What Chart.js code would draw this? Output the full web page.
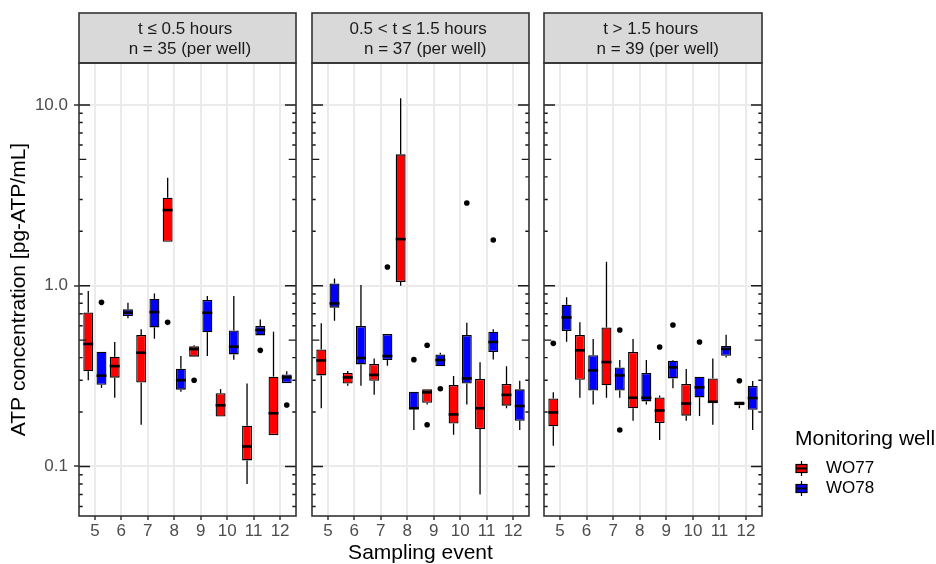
<!DOCTYPE html>
<html>
<head>
<meta charset="utf-8">
<script src="https://cdn.jsdelivr.net/npm/chart.js@4.4.1/dist/chart.umd.min.js"></script>
<style>
  html, body { margin: 0; padding: 0; background: #fff; }
  #wrap { position: relative; width: 936px; height: 564px; }
  #wrap canvas { position: absolute; left: 0; top: 0; }
</style>
</head>
<body>
<div id="wrap">
  <canvas id="panel0" width="936" height="564"></canvas>
  <canvas id="panel1" width="936" height="564"></canvas>
  <canvas id="panel2" width="936" height="564"></canvas>
</div>
<script>
const events = [5, 6, 7, 8, 9, 10, 11, 12];
const wells = ['WO77', 'WO78'];
const wellColors = ['#ff0000', '#0000ff'];
const stripTitles = [
  ['t \u2264 0.5 hours ', ' n = 35 (per well)'],
  ['0.5 < t \u2264 1.5 hours ', '  n = 37 (per well)'],
  ['t > 1.5 hours ', '  n = 39 (per well)']
];
const yTicks = [0.1, 1, 10];
const yMin = 0.0532;
const yMax = 17.07;

// per event: [lower whisker, Q1, median, Q3, upper whisker]
const early_WO77 = [
  [0.300, 0.336, 0.476, 0.712, 0.934],
  [0.240, 0.310, 0.359, 0.405, 0.488],
  [0.170, 0.291, 0.426, 0.533, 0.574],
  [1.75, 1.75, 2.62, 3.07, 3.96],
  [0.405, 0.405, 0.446, 0.462, 0.468],
  [0.189, 0.189, 0.218, 0.254, 0.268],
  [0.080, 0.108, 0.129, 0.168, 0.288],
  [0.149, 0.149, 0.197, 0.314, 0.557]
];
const early_WO78 = [
  [0.272, 0.283, 0.318, 0.431, 0.431],
  [0.660, 0.680, 0.709, 0.740, 0.805],
  [0.509, 0.588, 0.715, 0.847, 0.907],
  [0.259, 0.266, 0.300, 0.347, 0.408],
  [0.408, 0.552, 0.709, 0.833, 0.877],
  [0.390, 0.417, 0.460, 0.566, 0.877],
  [0.531, 0.531, 0.569, 0.598, 0.651],
  [0.289, 0.289, 0.311, 0.323, 0.336]
];
const early_WO77_out = [[], [], [], [0.627], [0.300], [], [], []];
const early_WO78_out = [[0.809], [], [], [], [], [], [0.439], [0.219]];

const mid_WO77 = [
  [0.210, 0.319, 0.386, 0.444, 0.619],
  [0.280, 0.288, 0.311, 0.329, 0.337],
  [0.249, 0.298, 0.321, 0.369, 0.396],
  [1.00, 1.05, 1.81, 5.33, 10.88],
  [0.220, 0.225, 0.257, 0.267, 0.267],
  [0.150, 0.173, 0.194, 0.282, 0.317],
  [0.070, 0.161, 0.210, 0.305, 0.377],
  [0.210, 0.217, 0.249, 0.286, 0.358]
];
const mid_WO78 = [
  [0.640, 0.756, 0.798, 1.030, 1.098],
  [0.280, 0.367, 0.398, 0.598, 1.009],
  [0.361, 0.388, 0.408, 0.540, 0.540],
  [0.159, 0.207, 0.210, 0.259, 0.259],
  [0.358, 0.358, 0.388, 0.417, 0.426],
  [0.220, 0.288, 0.307, 0.533, 0.624],
  [0.391, 0.430, 0.488, 0.557, 0.574],
  [0.159, 0.179, 0.216, 0.267, 0.298]
];
const mid_WO77_out = [[], [], [], [], [0.468, 0.170], [], [], []];
const mid_WO78_out = [[], [], [1.27], [0.390], [0.269], [2.87], [1.79], []];

const late_WO77 = [
  [0.130, 0.167, 0.199, 0.238, 0.257],
  [0.240, 0.302, 0.439, 0.533, 0.627],
  [0.240, 0.281, 0.378, 0.588, 1.357],
  [0.179, 0.210, 0.240, 0.430, 0.507],
  [0.140, 0.174, 0.204, 0.241, 0.247],
  [0.179, 0.191, 0.223, 0.286, 0.346],
  [0.170, 0.226, 0.228, 0.307, 0.396],
  [0.210, 0.218, 0.2235, 0.229, 0.229]
];
const late_WO78 = [
  [0.490, 0.562, 0.668, 0.785, 0.862],
  [0.220, 0.263, 0.340, 0.412, 0.507],
  [0.240, 0.263, 0.319, 0.353, 0.388],
  [0.220, 0.229, 0.240, 0.329, 0.388],
  [0.271, 0.307, 0.353, 0.385, 0.388],
  [0.190, 0.241, 0.274, 0.314, 0.314],
  [0.401, 0.410, 0.447, 0.464, 0.536],
  [0.159, 0.206, 0.239, 0.279, 0.297]
];
const late_WO77_out = [[0.480], [], [], [], [0.458], [], [], [0.298]];
const late_WO78_out = [[], [], [0.569, 0.159], [], [0.606], [0.488], [], []];

const panels = [
  { stats: [early_WO77, early_WO78], out: [early_WO77_out, early_WO78_out] },
  { stats: [mid_WO77, mid_WO78], out: [mid_WO77_out, mid_WO78_out] },
  { stats: [late_WO77, late_WO78], out: [late_WO77_out, late_WO78_out] }
];

// layout
const W = 936, H = 564;
const panelLeft = [79, 312, 544];
const panelRight = [296, 529, 762];
const plotTop = 63, plotBottom = 516, stripTop = 13;
const FONT = "'Liberation Sans', Arial, sans-serif";
Chart.defaults.font.family = FONT;

// whiskers, medians, outliers on top of the floating bars
const boxPlugin = {
  id: 'boxWhiskers',
  afterDatasetsDraw(chart) {
    const ctx = chart.ctx, y = chart.scales.y;
    chart.data.datasets.forEach((ds, i) => {
      chart.getDatasetMeta(i).data.forEach((bar, j) => {
        const [lo, q1, med, q3, hi] = ds.stats[j];
        const half = bar.width / 2;
        ctx.save();
        ctx.strokeStyle = '#000';
        ctx.lineWidth = 1.3;
        ctx.beginPath();
        ctx.moveTo(bar.x, y.getPixelForValue(hi));
        ctx.lineTo(bar.x, y.getPixelForValue(q3));
        ctx.moveTo(bar.x, y.getPixelForValue(q1));
        ctx.lineTo(bar.x, y.getPixelForValue(lo));
        ctx.stroke();
        ctx.lineWidth = 2.6;
        ctx.beginPath();
        ctx.moveTo(bar.x - half, y.getPixelForValue(med));
        ctx.lineTo(bar.x + half, y.getPixelForValue(med));
        ctx.stroke();
        ctx.fillStyle = '#000';
        ds.outliers[j].forEach(v => {
          ctx.beginPath();
          ctx.arc(bar.x, y.getPixelForValue(v), 2.8, 0, Math.PI * 2);
          ctx.fill();
        });
        ctx.restore();
      });
    });
  }
};

// strip, panel border and log ticks
const framePlugin = {
  id: 'facetFrame',
  afterDraw(chart, args, opts) {
    const ctx = chart.ctx, ca = chart.chartArea, y = chart.scales.y;
    ctx.save();
    // strip
    ctx.fillStyle = '#d9d9d9';
    ctx.fillRect(ca.left, stripTop, ca.right - ca.left, ca.top - stripTop);
    ctx.strokeStyle = '#333333';
    ctx.lineWidth = 1.6;
    ctx.strokeRect(ca.left, stripTop, ca.right - ca.left, ca.top - stripTop);
    ctx.fillStyle = '#1a1a1a';
    ctx.font = '17px ' + FONT;
    ctx.textAlign = 'center';
    ctx.textBaseline = 'middle';
    const cx = (ca.left + ca.right) / 2;
    ctx.fillText(opts.title[0], cx, 29);
    ctx.fillText(opts.title[1], cx, 49);
    // log ticks on both sides
    ctx.strokeStyle = '#1a1a1a';
    ctx.lineWidth = 1.4;
    ctx.beginPath();
    for (let k = -2; k <= 1; k++) {
      for (let m = 1; m <= 9; m++) {
        const v = m * Math.pow(10, k);
        if (v < y.min || v > y.max) continue;
        const py = y.getPixelForValue(v);
        const len = m === 1 ? 11 : (m === 5 ? 7.3 : 3.7);
        ctx.moveTo(ca.left, py); ctx.lineTo(ca.left + len, py);
        ctx.moveTo(ca.right, py); ctx.lineTo(ca.right - len, py);
      }
    }
    ctx.stroke();
    // panel border
    ctx.strokeStyle = '#333333';
    ctx.lineWidth = 1.6;
    ctx.strokeRect(ca.left, ca.top, ca.right - ca.left, ca.bottom - ca.top);
    ctx.restore();
  }
};

const legendPlugin = {
  id: 'wellLegend',
  afterDraw(chart) {
    const ctx = chart.ctx;
    ctx.save();
    ctx.fillStyle = '#000';
    ctx.textAlign = 'left';
    ctx.textBaseline = 'middle';
    ctx.font = '21px ' + FONT;
    ctx.fillText('Monitoring well', 795, 439);
    wells.forEach((w, i) => {
      const cy = 468.5 + i * 20, x0 = 796, bw = 11, cx = x0 + bw / 2;
      ctx.strokeStyle = '#000';
      ctx.lineWidth = 1.2;
      ctx.beginPath();
      ctx.moveTo(cx, cy - 7.5); ctx.lineTo(cx, cy + 7.5);
      ctx.stroke();
      ctx.fillStyle = wellColors[i];
      ctx.fillRect(x0, cy - 4, bw, 8);
      ctx.strokeRect(x0, cy - 4, bw, 8);
      ctx.lineWidth = 2;
      ctx.beginPath();
      ctx.moveTo(x0, cy); ctx.lineTo(x0 + bw, cy);
      ctx.stroke();
      ctx.fillStyle = '#000';
      ctx.font = '17px ' + FONT;
      ctx.fillText(w, 826, cy);
    });
    ctx.restore();
  }
};

function makePanel(idx) {
  const p = panels[idx];
  const first = idx === 0;
  return new Chart(document.getElementById('panel' + idx), {
    type: 'bar',
    data: {
      datasets: wells.map((w, i) => ({
        label: w,
        data: events.map((e, j) => ({ x: e, y: [p.stats[i][j][1], p.stats[i][j][3]] })),
        stats: p.stats[i],
        outliers: p.out[i],
        backgroundColor: wellColors[i],
        borderColor: '#000',
        borderWidth: 1.3,
        borderSkipped: false,
        categoryPercentage: 1,
        barPercentage: 0.75
      }))
    },
    options: {
      responsive: false,
      animation: false,
      events: [],
      layout: { padding: { left: 0, top: plotTop, right: W - panelRight[idx], bottom: 0 } },
      plugins: {
        legend: { display: false },
        tooltip: { enabled: false },
        facetFrame: { title: stripTitles[idx] }
      },
      scales: {
        x: {
          type: 'linear',
          min: 4.4,
          max: 12.6,
          offset: false,
          afterBuildTicks: s => { s.ticks = events.map(v => ({ value: v })); },
          afterFit: s => { s.height = H - plotBottom; },
          grid: { offset: false, color: '#ebebeb', lineWidth: 2, tickColor: '#333333', tickWidth: 1.5, tickLength: 4 },
          border: { display: false },
          ticks: { color: '#4d4d4d', font: { size: 17 }, padding: 1.5, maxRotation: 0, autoSkip: false },
          title: { display: idx === 1, text: 'Sampling event', color: '#000', font: { size: 21, lineHeight: 1 }, padding: 0 }
        },
        y: {
          type: 'logarithmic',
          min: yMin,
          max: yMax,
          afterBuildTicks: s => { s.ticks = yTicks.map(v => ({ value: v })); },
          afterFit: s => { s.width = panelLeft[idx]; },
          grid: { color: '#ebebeb', lineWidth: 2, drawTicks: first, tickColor: '#333333', tickWidth: 1.5, tickLength: 5 },
          border: { display: false },
          ticks: { display: first, color: '#4d4d4d', font: { size: 17 }, padding: 6, callback: v => Number(v).toFixed(1) },
          title: { display: first, text: 'ATP concentration [pg-ATP/mL]', color: '#000', font: { size: 21, lineHeight: 1 }, padding: { top: 9, bottom: 0 } }
        }
      }
    },
    plugins: idx === 2 ? [boxPlugin, framePlugin, legendPlugin] : [boxPlugin, framePlugin]
  });
}

[0, 1, 2].forEach(makePanel);
</script>
</body>
</html>
